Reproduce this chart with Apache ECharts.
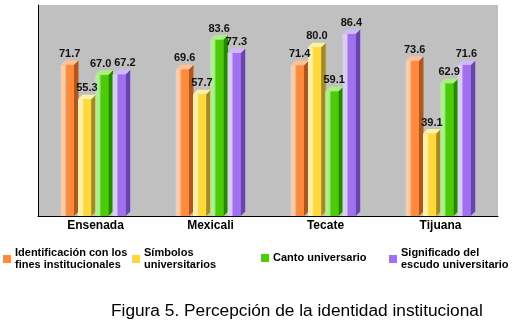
<!DOCTYPE html>
<html>
<head>
<meta charset="utf-8">
<script src="https://cdn.jsdelivr.net/npm/echarts@6/dist/echarts.min.js"></script>
<style>
  html, body { margin: 0; padding: 0; background: #fff; }
  #chart { width: 527px; height: 323px; }
</style>
</head>
<body>
<div id="chart"></div>
<script>
const categories = ['Ensenada', 'Mexicali', 'Tecate', 'Tijuana'];
const seriesNames = [
  'Identificación con los\nfines institucionales',
  'Símbolos\nuniversitarios',
  'Canto universario',
  'Significado del\nescudo universitario'
];
const identificacion = [71.7, 69.6, 71.4, 73.6];
const simbolos = [55.3, 57.7, 80.0, 39.1];
const canto = [67.0, 83.6, 59.1, 62.9];
const significado = [67.2, 77.3, 86.4, 71.6];

const FONT = '"Liberation Sans", Arial, sans-serif';

// light / mid / dark (side) / top colours for each series
const palette = [
  { light: '#ffcaa4', mid: '#ff8a3c', dark: '#a85a26', top: '#ffc094' },
  { light: '#fff2a4', mid: '#ffd83c', dark: '#a08a2c', top: '#fff0a0' },
  { light: '#a8f488', mid: '#4ccc08', dark: '#248800', top: '#a8f080' },
  { light: '#dccaff', mid: '#a070f0', dark: '#6646a8', top: '#d0b8ff' }
];

const values = [identificacion, simbolos, canto, significado];

// same geometry for bars and labels
function geom(si, api) {
  const cat = api.value(0);
  const val = api.value(1);
  const base = api.coord([cat, 0]);
  const top = api.coord([cat, val]);
  const band = api.size([1, 0])[0];
  const step = band * 0.15;
  const w = band * 0.115;
  const d = 4.5;
  const x0 = base[0] + (si - 1.5) * step - (w + d) / 2;
  return { cat: cat, val: val, base: base, top: top, w: w, d: d, x0: x0 };
}

function renderBar(si) {
  return function (params, api) {
    const g = geom(si, api);
    const c = palette[si];
    const x0 = g.x0, w = g.w, d = g.d, ty = g.top[1], by = g.base[1];
    return {
      type: 'group',
      children: [
        {
          type: 'rect',
          shape: { x: x0, y: ty, width: w, height: by - ty },
          style: {
            fill: new echarts.graphic.LinearGradient(0, 0, 1, 0, [
              { offset: 0, color: c.light },
              { offset: 0.3, color: c.light },
              { offset: 0.45, color: c.mid },
              { offset: 1, color: c.mid }
            ])
          }
        },
        {
          type: 'polygon',
          shape: { points: [[x0 + w, ty], [x0 + w + d, ty - d], [x0 + w + d, by - d], [x0 + w, by]] },
          style: { fill: c.dark }
        },
        {
          type: 'polygon',
          shape: { points: [[x0, ty], [x0 + d, ty - d], [x0 + w + d, ty - d], [x0 + w, ty]] },
          style: { fill: c.top }
        }
      ]
    };
  };
}

function renderLabel(si) {
  return function (params, api) {
    const g = geom(si, api);
    // nudge labels sideways when a neighbour's label sits at about the same height
    const pxPerUnit = api.size([0, 1])[1];
    let shift = 0;
    if (si > 0 && Math.abs(values[si - 1][g.cat] - g.val) * pxPerUnit < 12) shift += 3.5;
    if (si < values.length - 1 && Math.abs(values[si + 1][g.cat] - g.val) * pxPerUnit < 12) shift -= 3.5;
    return {
      type: 'text',
      style: {
        text: g.val.toFixed(1),
        x: g.x0 + (g.w + g.d) / 2 + shift,
        y: g.top[1] - g.d - 1,
        align: 'center',
        verticalAlign: 'bottom',
        font: 'bold 11px ' + FONT,
        fill: '#111'
      }
    };
  };
}

function legendAt(i, left, top) {
  return {
    data: [seriesNames[i]],
    left: left,
    top: top,
    orient: 'horizontal',
    icon: 'rect',
    itemWidth: 8,
    itemHeight: 8,
    itemGap: 4,
    padding: 0,
    selectedMode: false,
    textStyle: { fontFamily: FONT, fontSize: 11, fontWeight: 'bold', color: '#000', lineHeight: 12, padding: [0, 0, 0, -1] }
  };
}

const barSeries = values.map(function (arr, si) {
  return {
    name: seriesNames[si],
    type: 'custom',
    z: 2,
    renderItem: renderBar(si),
    itemStyle: { color: palette[si].mid },
    encode: { x: 0, y: 1 },
    data: arr.map(function (v, i) { return [i, v]; })
  };
});
const labelSeries = values.map(function (arr, si) {
  return {
    type: 'custom',
    z: 5,
    renderItem: renderLabel(si),
    encode: { x: 0, y: 1 },
    data: arr.map(function (v, i) { return [i, v]; })
  };
});

const option = {
  animation: false,
  backgroundColor: '#fff',
  title: {
    text: 'Figura 5. Percepción de la identidad institucional',
    left: 111,
    top: 303,
    padding: 0,
    textStyle: { fontFamily: FONT, fontSize: 17.3, fontWeight: 'normal', color: '#000' }
  },
  legend: [
    legendAt(0, 3, 247),
    legendAt(1, 132, 247),
    legendAt(2, 261, 252),
    legendAt(3, 389, 247)
  ],
  grid: {
    left: 38,
    right: 29,
    top: 5,
    bottom: 107,
    show: true,
    backgroundColor: '#c0c0c0',
    borderWidth: 0
  },
  xAxis: {
    type: 'category',
    data: categories,
    axisLine: { lineStyle: { color: '#000', width: 1 } },
    axisTick: { show: false },
    axisLabel: { color: '#000', fontFamily: FONT, fontSize: 12, fontWeight: 'bold', margin: 4 }
  },
  yAxis: {
    type: 'value',
    min: 0,
    max: 100,
    axisLine: { show: true, lineStyle: { color: '#000', width: 1 } },
    axisTick: { show: false },
    axisLabel: { show: false },
    splitLine: { show: false }
  },
  series: barSeries.concat(labelSeries)
};

const myChart = echarts.init(document.getElementById('chart'));
myChart.setOption(option);
window.addEventListener('resize', function () {
  myChart.resize();
});
</script>
</body>
</html>
